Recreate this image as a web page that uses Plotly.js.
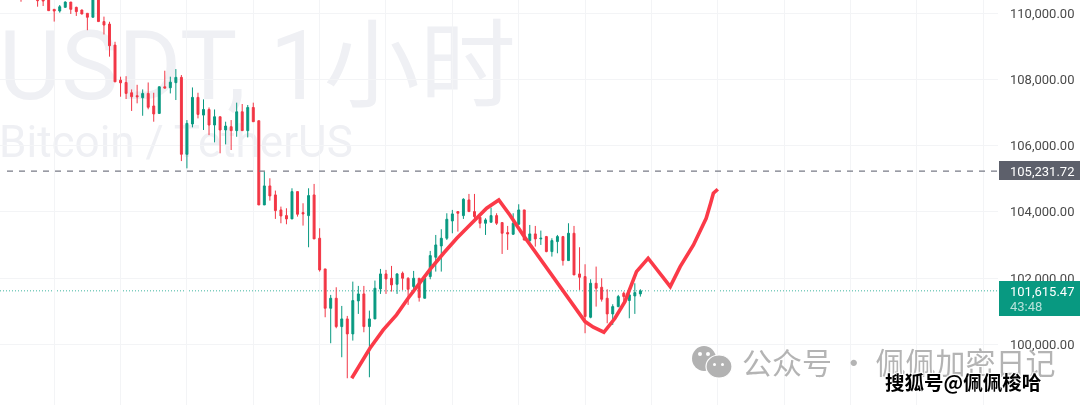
<!DOCTYPE html>
<html><head><meta charset="utf-8">
<script src="https://cdn.plot.ly/plotly-3.0.1.min.js"></script>
<style>html,body{margin:0;padding:0;background:#fff;overflow:hidden}#c{width:1080px;height:405px;filter:blur(0.45px)}</style>
</head><body><div id="c"></div>
<script>
const opens=[110600,110700,110800,110700,110600,110800,110120,110070,110180,110340,110180,110100,110000,109880,110500,109750,109675,109040,107980,107910,107600,107510,107450,107580,107200,106975,107780,107750,107905,108065,105740,106655,107460,106925,107095,106625,106875,106475,106575,106455,107025,106455,107155,106755,104210,104785,104513,104060,103888,103788,104613,103979,103888,104513,103204,102277,101089,101391,100535,100767,100314,101311,101522,100535,100767,101673,102126,101995,101814,102146,101995,101744,101995,101391,102046,102630,102972,103204,103727,104009,103888,104362,104009,103838,103657,103687,103888,103677,103375,103325,103627,104060,103133,103335,103184,103254,102801,103103,103254,102529,103355,102126,102046,100817,101844,101723,101391,100918,101139,101542,101321,101462,101522];
const highs=[110700,110900,110950,110800,110700,110900,110120,110250,110360,110340,110200,110110,110000,110800,110900,109900,109745,109140,108085,108100,107700,107840,107700,107910,107600,107790,108265,108085,108315,108135,106775,107760,107600,107400,107155,107095,106875,106725,106775,107300,107260,107230,107300,106755,105218,105016,104644,104160,104110,104714,104613,104261,104714,104845,103506,102277,101492,101723,101159,100857,101894,101764,101764,101018,101925,102277,102247,102368,102146,102197,102025,102217,101995,102025,102821,103304,103476,103959,104060,104009,104412,104543,104543,103858,103808,104130,103959,103677,103576,103959,104231,104060,103606,103576,103435,103274,103204,103304,103274,103657,103576,102932,102418,101965,102348,101995,101663,101210,101492,101592,101693,101844,101663];
const lows=[110350,110500,110600,110200,110220,110080,109750,110020,110180,109980,109920,109970,109490,109880,109750,109360,108690,107930,107480,107410,107050,107280,106905,107100,106725,106975,107730,107580,107380,105535,105315,106555,106825,106475,106320,106100,105770,106040,105870,106270,106455,106250,106725,104210,104210,104340,103788,103657,103627,103788,103858,103586,102932,103184,102197,100817,100032,100485,99609,98974,100112,100918,100364,99004,100767,101522,101522,101592,101522,101643,101190,101542,101290,101391,101965,102197,102197,103153,103355,103405,103788,104009,103707,103506,103304,103687,103606,102730,102851,103304,103606,103133,103073,102952,103002,102781,102650,102750,102378,102529,102096,101643,100334,100787,101139,101290,100636,100585,101119,101190,100787,100918,101441];
const closes=[110420,110600,110700,110380,110370,110080,110070,110200,110340,110120,110050,109980,109880,110500,109750,109645,109020,107930,107900,107580,107480,107480,107580,107160,106960,107780,107740,107920,108065,105740,106675,107460,106945,107095,106625,106875,106475,106595,106455,107025,106455,107155,106725,104210,104785,104483,104040,103878,103788,104613,103929,103939,104493,103184,102247,101089,101391,100535,100767,100314,101321,101522,100535,100767,101693,102126,101975,101794,102126,101995,101663,101995,101411,101995,102680,103002,103204,103778,103939,103959,104382,104009,103858,103657,103758,103888,103657,103355,103335,103657,104060,103153,103335,103184,103204,102801,103133,103254,102529,103355,102096,102025,100837,101844,101693,101361,100918,101139,101441,101441,101492,101562,101615.47];
const candleIndex=opens.map((_,i)=>i);

const sketchIndex=[59.8,61.3,63.1,65.5,67.9,70.0,71.8,73.9,76.4,78.8,80.9,82.1,84.2,86.4,88.4,90.8,94.5,98.1,102.0,103.5,105.4,107.4,109.2,111.3,113.4,117.4,119.2,121.6,123.9,124.7,125.2,126.0];
const sketchPrice=[98974,99377,99880,100434,100888,101391,101794,102247,102750,103204,103556,103758,104110,104362,103909,103304,102448,101592,100686,100515,100364,100787,101290,102197,102600,101744,102348,103002,103808,104261,104563,104684];

const markPrice=105231.72, lastPrice=101615.47;
const markLabel="105,231.72", lastLabel="101,615.47", countdown="43:48", bottomTick="98,000.00";
const wmSymbol="USDT, 1小时", wmName="Bitcoin / TetherUS", wmOfficial="公众号 · 佩佩加密日记", wmSohu="搜狐号@佩佩梭哈";

const W=998,H=405;
const px=x=>x/W, py=y=>1-y/H;
const paperRect=(x0,y0,x1,y1,fill,extra)=>Object.assign({type:'rect',xref:'paper',yref:'paper',x0:px(x0),x1:px(x1),y0:py(y1),y1:py(y0),fillcolor:fill,line:{width:0}},extra||{});
const paperOval=(x0,y0,x1,y1,fill,extra)=>Object.assign(paperRect(x0,y0,x1,y1,fill),{type:'circle'},extra||{});
const label=(x,y,text,font,anchor)=>({xref:'paper',yref:'paper',x:px(x),y:py(y),text,showarrow:false,xanchor:anchor||'left',yanchor:'middle',font,borderpad:0});

const wmColor='#eff0f4';
const shapes=[
 Object.assign(paperRect(-4,14,520,104,'rgba(0,0,0,0)',{layer:'below'}),{label:{text:wmSymbol,textposition:'middle left',padding:0,font:{family:'Roboto,"Noto Sans CJK SC"',size:96,color:wmColor}}}),
 Object.assign(paperRect(-4,114,360,164,'rgba(0,0,0,0)',{layer:'below'}),{label:{text:wmName,textposition:'middle left',padding:0,font:{family:'Roboto',size:44,color:wmColor}}}),
 {type:'line',xref:'paper',yref:'y',x0:px(7),x1:1,y0:markPrice,y1:markPrice,line:{color:'#787b86',width:1.4,dash:'6px,6px'},layer:'above'},
 {type:'line',xref:'paper',yref:'y',x0:0,x1:1,y0:lastPrice,y1:lastPrice,line:{color:'#3fb5a0',width:1,dash:'1px,2px'},layer:'below'},
 paperRect(999,161,1080,180,'#5d606b'),
 paperRect(999,281,1080,316,'#089981'),
 paperOval(692,346,716,371,'#b2b2b2'),
 paperOval(706,355,732,378,'#b2b2b2',{line:{width:1.2,color:'#ffffff'}}),
 paperOval(698,352,702,356,'#ffffff'),
 paperOval(706,352,710,356,'#ffffff'),
 paperOval(713,363,716,366,'#ffffff'),
 paperOval(721,363,724,366,'#ffffff')
];
const annotations=[
 label(1009,171,markLabel,{family:'Roboto',size:13,color:'#ffffff'}),
 label(1009,291,lastLabel,{family:'Roboto',size:13,color:'#ffffff'}),
 label(1009,306,countdown,{family:'Roboto',size:13,color:'#b5e2da'}),
 label(1009,409,bottomTick,{family:'Roboto',size:13,color:'#4a4a4a'}),
 label(741,361,wmOfficial,{family:'"Noto Sans CJK SC"',size:30,color:'#b4b4b4'}),
 label(884,381,wmSohu,{family:'"Noto Sans CJK SC"',size:19.5,color:'#000000',weight:700,shadow:'1px 1px 1px #fff,-1px -1px 1px #fff,1px -1px 1px #fff,-1px 1px 1px #fff'})
];
const data=[
 {type:'candlestick',x:candleIndex,open:opens,high:highs,low:lows,close:closes,
  increasing:{line:{color:'#089981',width:1},fillcolor:'#089981'},
  decreasing:{line:{color:'#f23645',width:1},fillcolor:'#f23645'},hoverinfo:'skip',showlegend:false},
 {type:'scatter',mode:'lines',x:sketchIndex,y:sketchPrice,line:{color:'#fb3a48',width:3.6},hoverinfo:'skip',showlegend:false}
];
const layout={width:1080,height:405,margin:{l:0,r:82,t:0,b:0,pad:0},paper_bgcolor:'#fff',plot_bgcolor:'#fff',boxgap:0.5,showlegend:false,
 xaxis:{range:[-3.8,176.67],rangeslider:{visible:false},showticklabels:false,ticks:'',tick0:6,dtick:12,showgrid:true,gridcolor:'#f3f4f6',gridwidth:1,zeroline:false,showline:false},
 yaxis:{side:'right',range:[98166,110402],tick0:0,dtick:2000,tickformat:',.2f',ticks:'',ticklabelstandoff:11,showgrid:true,gridcolor:'#f3f4f6',gridwidth:1,zeroline:false,showline:false,tickfont:{family:'Roboto',size:13,color:'#4a4a4a'}},
 shapes,annotations};
Plotly.newPlot('c',data,layout,{displayModeBar:false,staticPlot:true});
</script></body></html>
